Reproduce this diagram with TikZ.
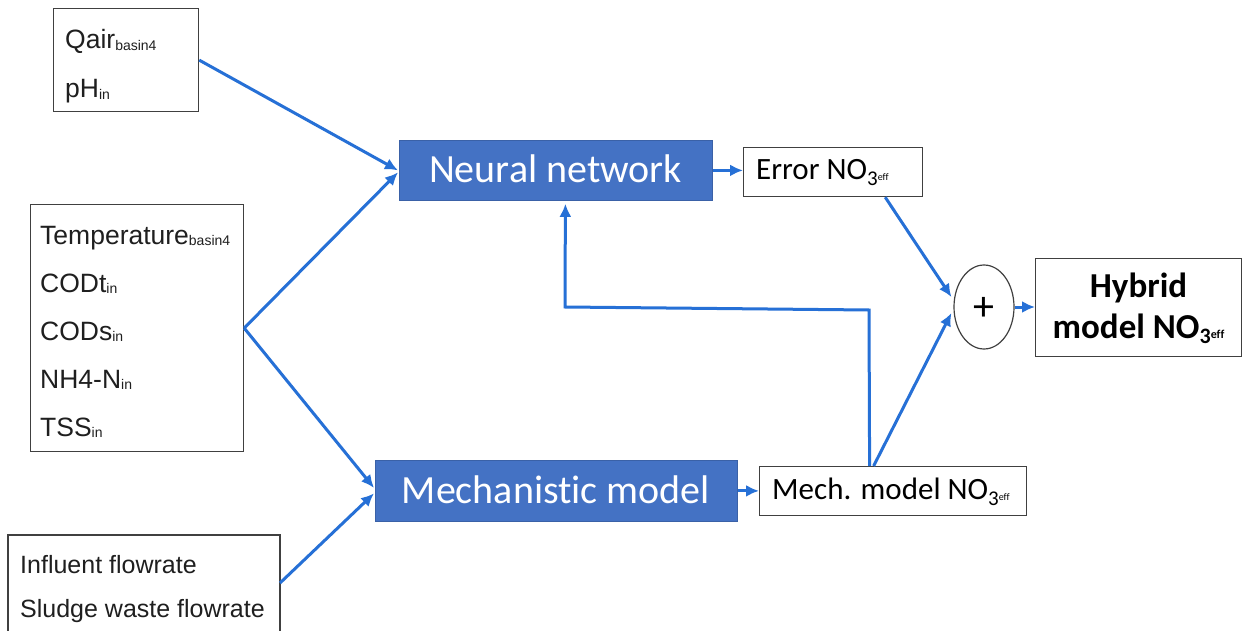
\documentclass[tikz,border=0pt]{standalone}
\usepackage{fontspec}
\setmainfont{Liberation Sans}
\newfontfamily\calfont[Ligatures={NoCommon}]{Carlito}
\usetikzlibrary{arrows.meta,shapes.geometric,calc}
\definecolor{lnblue}{RGB}{38,112,214}
\definecolor{fillblue}{RGB}{68,114,196}
\definecolor{edgegray}{RGB}{64,64,64}
\newcommand\asub[1]{\raisebox{-1.5pt}{\fontsize{14}{14}\selectfont #1}}
\newcommand\nothr{NO\raisebox{-6pt}{\fontsize{21}{21}\selectfont 3}\raisebox{-1pt}{\fontsize{10}{10}\selectfont eff}}
\newcommand\nothrb{NO\raisebox{-5pt}{\fontsize{22}{22}\selectfont\bfseries 3}\raisebox{-0.5pt}{\fontsize{12}{12}\selectfont\bfseries eff}}
\tikzset{
  box/.style={draw=edgegray, line width=1.2pt, inner sep=0pt, fill=white, anchor=north west},
  blk/.style={fill=fillblue, draw=fillblue!85!black, line width=0.8pt, inner sep=0pt, anchor=north west},
  txt/.style={inner sep=0pt, anchor=base west, font=\fontsize{26.5}{30}\selectfont, text=black!88},
  txtsm/.style={txt, font=\fontsize{25}{30}\selectfont},
  btxt/.style={inner sep=0pt, anchor=base, font=\calfont\fontsize{40}{40}\selectfont, text=white},
  ctxt/.style={inner sep=0pt, anchor=base west, font=\calfont\fontsize{31}{31}\selectfont, text=black},
  htxt/.style={inner sep=0pt, anchor=base, font=\calfont\bfseries\fontsize{35}{35}\selectfont, text=black},
  conn/.style={draw=lnblue, line width=3pt},
  arr/.style={conn, -{Latex[length=13pt,width=12pt]}},
}
\begin{document}
\begin{tikzpicture}[x=1pt,y=-1pt]
\useasboundingbox (0,0) rectangle (1242,631);
\fill[white] (0,0) rectangle (1242,631);

% input boxes
\node[box, minimum width=145pt, minimum height=103pt] (b1) at (53,8) {};
\node[txt] (t11) at (65,49) {Qair\asub{basin4}};
\node[txt] (t12) at (65,98) {pH\asub{in}};

\node[box, minimum width=213pt, minimum height=247pt] (b2) at (30,204) {};
\node[txt] (t21) at (40,244) {Temperature\asub{basin4}};
\node[txt] (t22) at (40,292) {CODt\asub{in}};
\node[txt] (t23) at (40,340) {CODs\asub{in}};
\node[txt] (t24) at (40,388) {NH4-N\asub{in}};
\node[txt] (t25) at (40,436) {TSS\asub{in}};

\draw[draw=edgegray, line width=1.2pt] (8,640) -- (8,535) -- (280,535) -- (280,640);
\coordinate (b3e) at (280,583);
\node[txtsm] (t31) at (20,573) {Influent flowrate};
\node[txtsm] (t32) at (20,617) {Sludge waste flowrate};

% model blocks
\node[blk, minimum width=313pt, minimum height=60pt] (nn) at (399,140) {};
\node[btxt] (nnt) at (555.5,183) {Neural network};
\node[blk, minimum width=362pt, minimum height=61pt] (mech) at (375,460) {};
\node[btxt] (mecht) at (556,503) {Mechanistic model};

% outputs
\node[box, minimum width=179pt, minimum height=49pt] (err) at (743,147) {};
\node[ctxt] (errt) at (756,180) {Error \nothr};
\node[box, minimum width=267pt, minimum height=49pt] (mno) at (759,466) {};
\node[ctxt] (mnot) at (772,499) {Mech. model \nothr};

\node[draw=edgegray, line width=1.2pt, ellipse, minimum width=60pt, minimum height=84pt, inner sep=0pt, fill=white] (pl) at (984,307) {};
\node[inner sep=0pt, font=\calfont\fontsize{42}{42}\selectfont] (plt) at (984,309) {+};

\node[box, minimum width=205.5pt, minimum height=98pt] (hyb) at (1035,258) {};
\node[htxt] (h1) at (1138.5,297) {Hybrid};
\node[htxt] (h2) at (1138.5,338) {model \nothrb};

% connectors
\draw[arr] (b1.east) -- ([xshift=-1pt]nn.west);
\draw[arr] (b2.east) -- ([shift={(-1pt,-2pt)}]nn.west);
\draw[arr] (b2.east) -- ([shift={(-1pt,3pt)}]mech.west);
\draw[arr] (b3e) -- ([shift={(-1pt,-2.5pt)}]mech.west);
\draw[arr] (nn.east) -- (nn.east -| err.west);
\draw[arr] (mech.east) -- (mech.east -| mno.west);
\draw[arr] ([xshift=-38pt]err.south east) -- ([shift={(-2pt,10pt)}]pl.west);
\draw[arr] ([xshift=-19.5pt]mno.north) -- ([shift={(-2pt,-6pt)}]pl.west);
\coordinate (fb1) at (869,310);
\coordinate (fb2) at (565,307);
\draw[arr] ([xshift=-23.5pt]mno.north) -- (fb1) -- (fb2) -- ([xshift=9.5pt,yshift=-3pt]nn.south);
\draw[arr] (pl.east) -- (pl.east -| hyb.west);
\end{tikzpicture}
\end{document}
